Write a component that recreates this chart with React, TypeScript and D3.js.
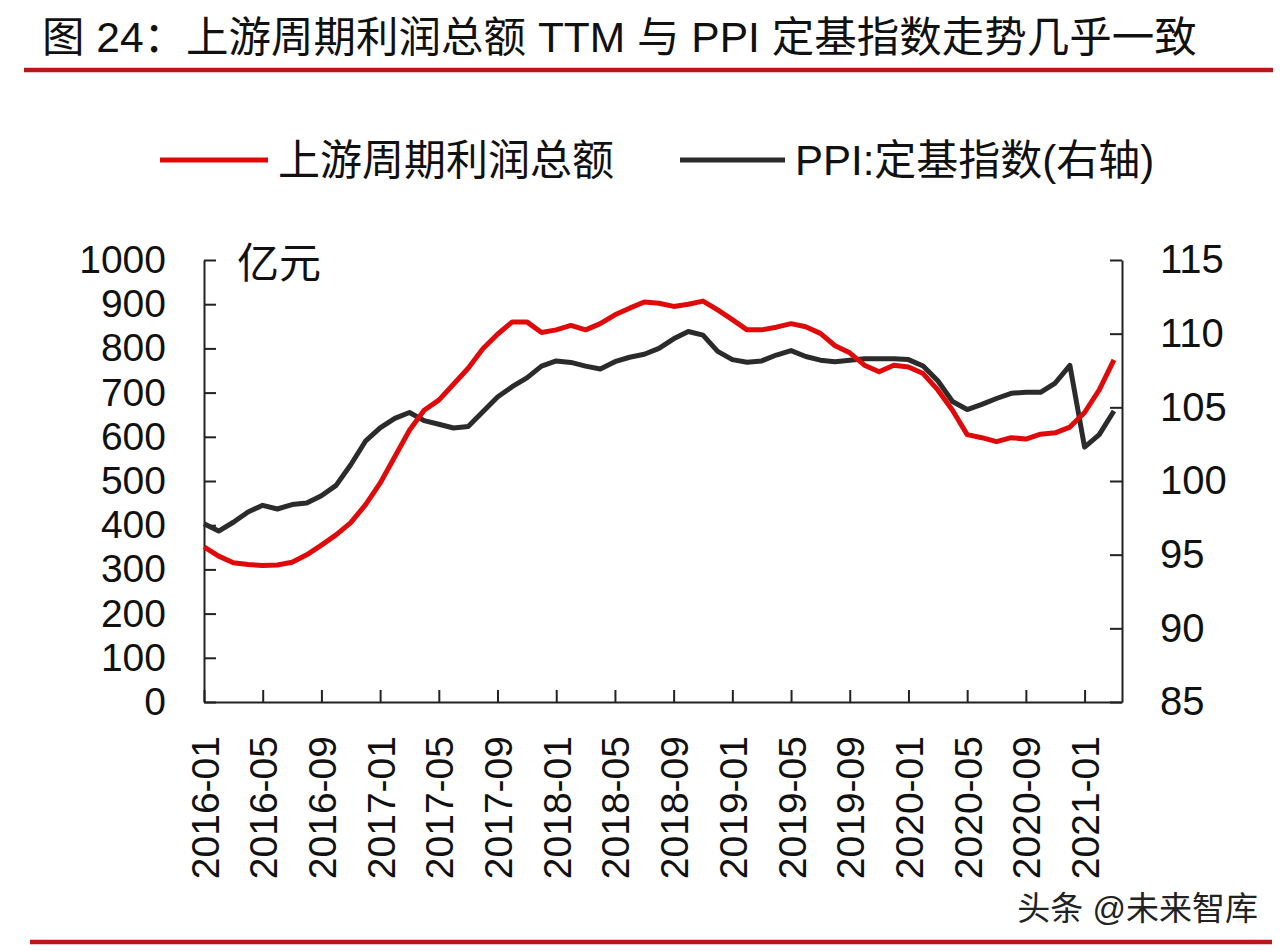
import React, { useEffect, useRef } from 'react';
import * as d3 from 'd3';

// 2016-01 .. 2021-03, monthly
const months = d3.timeMonths(new Date(2016, 0, 1), new Date(2021, 3, 1)).map(d3.timeFormat('%Y-%m'));

// 上游周期利润总额 TTM (亿元, left axis)
const profit = [
  351, 330, 315, 311, 309, 310, 316, 333, 355, 378,
  406, 446, 495, 555, 615, 660, 683, 719, 755, 799,
  832, 860, 860, 836, 842, 852, 842, 856, 876, 891,
  905, 902, 895, 900, 907, 887, 865, 842, 842, 848,
  856, 849, 834, 806, 790, 762, 747, 762, 758, 743,
  706, 660, 605, 598, 589, 598, 595, 606, 609, 622,
  655, 706, 774,
];

// PPI 定基指数 (right axis)
const ppi = [
  97.1, 96.6, 97.2, 97.9, 98.35, 98.1, 98.4, 98.5, 99.0, 99.7,
  101.1, 102.7, 103.6, 104.25, 104.65, 104.1, 103.85, 103.6, 103.7, 104.7,
  105.7, 106.4, 107.0, 107.8, 108.15, 108.05, 107.8, 107.6, 108.1, 108.4,
  108.6, 109.0, 109.65, 110.15, 109.9, 108.8, 108.24, 108.06, 108.15, 108.55,
  108.85, 108.45, 108.2, 108.1, 108.2, 108.3, 108.3, 108.3, 108.24, 107.8,
  106.8, 105.4, 104.85, 105.2, 105.6, 105.95, 106.02, 106.02, 106.65, 107.85,
  102.3, 103.15, 104.75,
];

const leftTicks = [0, 100, 200, 300, 400, 500, 600, 700, 800, 900, 1000];
const rightTicks = [85, 90, 95, 100, 105, 110, 115];
const xTickIdx = d3.range(0, 61, 4);

const title = '图 24：上游周期利润总额 TTM 与 PPI 定基指数走势几乎一致';
const seriesNames = ['上游周期利润总额', 'PPI:定基指数(右轴)'];

const W = 1284;
const H = 950;
const FONT = '"Liberation Sans", Arial, "Noto Sans CJK SC", sans-serif';

const App = () => {
  const svgRef = useRef<SVGSVGElement>(null);

  useEffect(() => {
    const svg = d3.select(svgRef.current);
    svg.selectAll('*').remove();

    const red = '#e00a0a';
    const dark = '#2b2b2b';
    const rule = '#c0141b';

    const left = 204, right = 1122, top = 260, bottom = 702;

    const x = d3.scaleLinear().domain([0, 62.55]).range([left, right]);
    const yL = d3.scaleLinear().domain([0, 1000]).range([bottom, top]);
    const yR = d3.scaleLinear().domain([85, 115]).range([bottom, top]);

    svg.append('rect').attr('width', W).attr('height', H).attr('fill', '#ffffff');

    // Title + rules
    svg.append('text')
      .attr('x', 42).attr('y', 52)
      .attr('font-size', 42.5).attr('fill', '#111')
      .text(title);
    svg.append('line').attr('x1', 24).attr('x2', 1273).attr('y1', 70).attr('y2', 70)
      .attr('stroke', rule).attr('stroke-width', 4.5);
    svg.append('line').attr('x1', 30).attr('x2', 1272).attr('y1', 942).attr('y2', 942)
      .attr('stroke', rule).attr('stroke-width', 4.5);

    // Legend
    const legend = [
      { name: seriesNames[0], color: red, x0: 160, x1: 268 },
      { name: seriesNames[1], color: dark, x0: 680, x1: 785 },
    ];
    legend.forEach(l => {
      svg.append('line').attr('x1', l.x0).attr('x2', l.x1).attr('y1', 160).attr('y2', 160)
        .attr('stroke', l.color).attr('stroke-width', 5);
      svg.append('text').attr('x', l.x1 + 10).attr('y', 160).attr('dy', '0.36em')
        .attr('font-size', 42).attr('fill', '#111').text(l.name);
    });

    // Unit
    svg.append('text').attr('x', 237).attr('y', 278)
      .attr('font-size', 42).attr('fill', '#111').text('亿元');

    const styleAxis = (g: any, size: number) => {
      g.selectAll('path').attr('stroke', '#222').attr('stroke-width', 2);
      g.selectAll('line').attr('stroke', '#222').attr('stroke-width', 2);
      g.selectAll('text').attr('fill', '#111').style('font-size', size + 'px').style('font-family', FONT);
    };

    // Left axis
    svg.append('g')
      .attr('transform', `translate(${left},0)`)
      .call(d3.axisLeft(yL).tickValues(leftTicks).tickFormat(d3.format('d'))
        .tickSize(-12).tickSizeOuter(0).tickPadding(38))
      .call(g => styleAxis(g, 39));

    // Right axis
    svg.append('g')
      .attr('transform', `translate(${right},0)`)
      .call(d3.axisRight(yR).tickValues(rightTicks).tickFormat(d3.format('d'))
        .tickSize(-12).tickSizeOuter(0).tickPadding(38))
      .call(g => styleAxis(g, 40));

    // Bottom axis
    svg.append('g')
      .attr('transform', `translate(0,${bottom})`)
      .call(d3.axisBottom(x).tickValues(xTickIdx).tickSize(-12).tickSizeOuter(0)
        .tickFormat((i: any) => months[i]))
      .call(g => styleAxis(g, 39))
      .call(g => g.selectAll('text')
        .attr('transform', 'rotate(-90)')
        .attr('text-anchor', 'end')
        .attr('x', -34).attr('y', 0).attr('dy', '0.36em'));

    // Lines
    const profitLine = d3.line<number>().x((_, i) => x(i)).y(d => yL(d));
    const ppiLine = d3.line<number>().x((_, i) => x(i)).y(d => yR(d));

    svg.append('path').datum(ppi).attr('d', ppiLine)
      .attr('fill', 'none').attr('stroke', dark).attr('stroke-width', 5)
      .attr('stroke-linejoin', 'round');
    svg.append('path').datum(profit).attr('d', profitLine)
      .attr('fill', 'none').attr('stroke', red).attr('stroke-width', 5)
      .attr('stroke-linejoin', 'round');

    // Watermark
    svg.append('text').attr('x', 1258).attr('y', 920).attr('text-anchor', 'end')
      .attr('font-size', 33).attr('fill', '#222').text('头条 @未来智库');
  }, []);

  return (
    <svg
      ref={svgRef}
      width={W}
      height={H}
      style={{ position: 'absolute', left: 0, top: 0, display: 'block', fontFamily: FONT }}
    />
  );
};

export default App;
